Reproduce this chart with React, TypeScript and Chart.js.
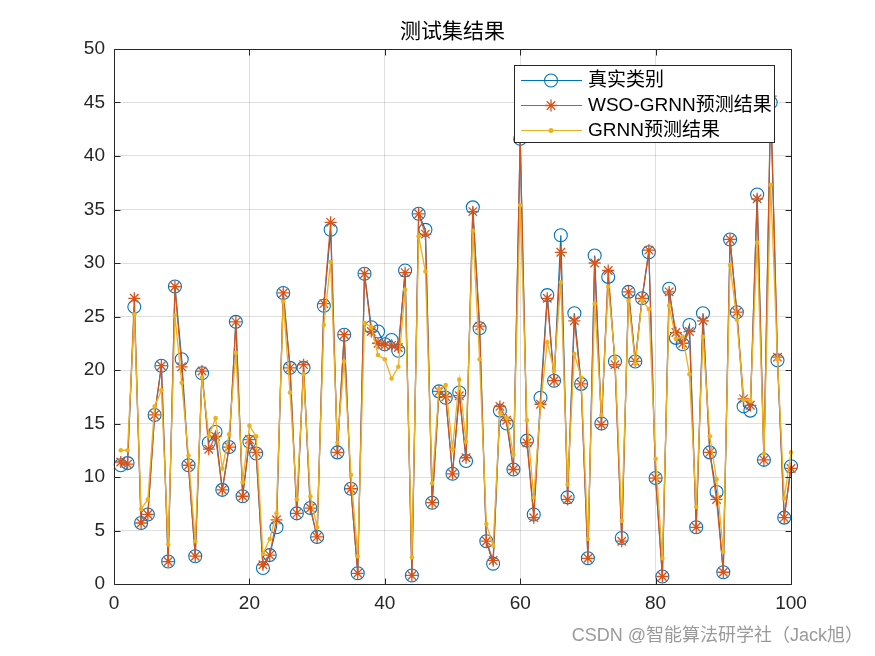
import React, { useEffect, useRef } from "react";
import { Chart, registerables } from "chart.js";

Chart.register(...registerables);

const sampleIndex: number[] = Array.from({ length: 100 }, (_, i) => i + 1);

const trueValues: number[] = [
  11.1, 11.3, 25.9, 5.7, 6.5, 15.8, 20.4, 2.1, 27.8, 21.0,
  11.1, 2.6, 19.7, 13.2, 14.2, 8.8, 12.8, 24.5, 8.2, 13.3,
  12.2, 1.5, 2.7, 5.3, 27.2, 20.2, 6.6, 20.2, 7.1, 4.4,
  26.0, 33.1, 12.3, 23.3, 8.9, 1.0, 29.0, 24.0, 23.6, 22.4,
  22.8, 21.8, 29.3, 0.8, 34.6, 33.1, 7.6, 18.0, 17.4, 10.3,
  17.9, 11.5, 35.2, 23.9, 4.0, 1.9, 16.2, 15.0, 10.7, 41.6,
  13.4, 6.5, 17.4, 27.0, 19.0, 32.6, 8.1, 25.3, 18.7, 2.4,
  30.7, 15.0, 28.7, 20.8, 4.3, 27.3, 20.8, 26.7, 31.0, 9.9,
  0.7, 27.6, 23.0, 22.4, 24.2, 5.3, 25.3, 12.3, 8.6, 1.1,
  32.2, 25.4, 16.6, 16.2, 36.4, 11.6, 45.0, 20.9, 6.2, 11.0,
];

const wsoValues: number[] = [
  11.4, 11.2, 26.7, 5.7, 6.5, 15.8, 20.4, 2.1, 27.8, 20.3,
  11.1, 2.6, 19.9, 12.6, 13.8, 8.8, 12.8, 24.5, 8.2, 13.5,
  12.3, 1.8, 2.7, 6.0, 27.2, 20.2, 6.6, 20.5, 7.1, 4.4,
  26.2, 33.8, 12.3, 23.3, 8.9, 1.0, 29.0, 23.6, 22.5, 22.3,
  22.3, 22.1, 29.1, 0.8, 34.6, 32.7, 7.6, 18.0, 17.5, 10.3,
  17.6, 11.8, 34.8, 24.1, 4.0, 2.2, 16.6, 15.3, 10.7, 41.7,
  13.2, 6.2, 16.8, 26.7, 19.0, 31.0, 7.9, 24.6, 18.7, 2.4,
  30.0, 14.9, 29.3, 20.5, 4.0, 27.3, 20.8, 26.7, 31.2, 9.9,
  0.7, 27.3, 23.5, 22.5, 23.6, 5.3, 24.6, 12.3, 7.9, 1.1,
  32.2, 25.4, 17.3, 16.7, 36.0, 11.6, 45.6, 21.2, 6.2, 10.8,
];

const grnnValues: number[] = [
  12.5, 12.5, 25.2, 7.0, 7.9, 16.6, 18.1, 3.7, 25.1, 18.8,
  12.0, 4.0, 19.3, 13.8, 15.5, 10.8, 14.0, 21.6, 9.5, 14.8,
  13.8, 2.8, 4.2, 6.6, 26.4, 17.9, 7.9, 19.6, 8.2, 5.3,
  24.2, 30.1, 13.2, 20.8, 10.2, 2.6, 24.4, 24.0, 21.4, 21.0,
  19.2, 20.3, 27.5, 2.5, 32.5, 29.2, 9.4, 18.2, 18.6, 12.6,
  19.1, 13.3, 33.0, 21.0, 5.6, 3.6, 16.0, 15.5, 12.1, 35.4,
  15.3, 8.1, 16.7, 22.6, 19.9, 28.2, 9.3, 21.5, 19.3, 4.2,
  26.2, 15.8, 27.8, 21.1, 5.9, 26.5, 20.6, 26.5, 25.7, 11.7,
  2.4, 26.0, 22.9, 23.1, 19.6, 7.2, 23.1, 13.8, 9.8, 3.0,
  29.8, 24.7, 17.2, 17.1, 31.9, 12.2, 37.3, 21.0, 8.0, 12.3,
];

const seriesNames: string[] = ["真实类别", "WSO-GRNN预测结果", "GRNN预测结果"];
const titleText = "测试集结果";
const watermarkText = "CSDN @智能算法研学社（Jack旭）";

const FONT = "'Liberation Sans', Arial, 'Noto Sans CJK SC', sans-serif";
const AXIS_COLOR = "#262626";
const C_TRUE = "#0072BD";
const C_WSO = "#D95319";
const C_GRNN = "#EDB120";

const toPoints = (vals: number[]) => vals.map((v, i) => ({ x: sampleIndex[i], y: v }));

const decorPlugin = {
  id: "decor",
  afterDraw(chart: any) {
    const ctx = chart.ctx as CanvasRenderingContext2D;
    const area = chart.chartArea;
    const xs = chart.scales.x;
    const ys = chart.scales.y;
    ctx.save();
    ctx.strokeStyle = AXIS_COLOR;
    ctx.lineWidth = 1;
    const L = Math.round(area.left) + 0.5;
    const R = Math.round(area.right) + 0.5;
    const T = Math.round(area.top) + 0.5;
    const B = Math.round(area.bottom) + 0.5;
    ctx.beginPath();
    ctx.rect(L, T, R - L, B - T);
    ctx.stroke();
    const tl = 6;
    ctx.beginPath();
    xs.ticks.forEach((t: any) => {
      const px = Math.round(xs.getPixelForValue(t.value)) + 0.5;
      ctx.moveTo(px, B);
      ctx.lineTo(px, B - tl);
      ctx.moveTo(px, T);
      ctx.lineTo(px, T + tl);
    });
    ys.ticks.forEach((t: any) => {
      const py = Math.round(ys.getPixelForValue(t.value)) + 0.5;
      ctx.moveTo(L, py);
      ctx.lineTo(L + tl, py);
      ctx.moveTo(R, py);
      ctx.lineTo(R - tl, py);
    });
    ctx.stroke();

    ctx.fillStyle = "#000";
    ctx.font = `21px ${FONT}`;
    ctx.textAlign = "center";
    ctx.textBaseline = "middle";
    ctx.fillText(titleText, (area.left + area.right) / 2, 32);

    const bx = 514.5, by = 65.5, bw = 260, bh = 77;
    ctx.fillStyle = "#fff";
    ctx.fillRect(bx, by, bw, bh);
    ctx.strokeStyle = AXIS_COLOR;
    ctx.lineWidth = 1;
    ctx.strokeRect(bx, by, bw, bh);
    const rows = [80, 105, 130];
    const metas = chart.data.datasets;
    rows.forEach((ry, i) => {
      const ds = metas[i];
      ctx.strokeStyle = ds.borderColor;
      ctx.lineWidth = 1.2;
      ctx.beginPath();
      ctx.moveTo(521, ry + 0.5);
      ctx.lineTo(582, ry + 0.5);
      ctx.stroke();
      const cx = 551, cy = ry + 0.5;
      if (i === 0) {
        ctx.strokeStyle = C_TRUE;
        ctx.lineWidth = 1.1;
        ctx.beginPath();
        ctx.arc(cx, cy, 6.5, 0, Math.PI * 2);
        ctx.stroke();
      } else if (i === 1) {
        ctx.strokeStyle = C_WSO;
        ctx.lineWidth = 1.3;
        ctx.beginPath();
        const r = 6;
        for (let k = 0; k < 4; k++) {
          const a = (k * Math.PI) / 4;
          ctx.moveTo(cx + r * Math.cos(a), cy + r * Math.sin(a));
          ctx.lineTo(cx - r * Math.cos(a), cy - r * Math.sin(a));
        }
        ctx.stroke();
      } else {
        ctx.fillStyle = C_GRNN;
        ctx.beginPath();
        ctx.arc(cx, cy, 2.5, 0, Math.PI * 2);
        ctx.fill();
      }
      ctx.fillStyle = "#000";
      ctx.font = `19px ${FONT}`;
      ctx.textAlign = "left";
      ctx.textBaseline = "middle";
      ctx.fillText(seriesNames[i], 588, ry + 1);
    });

    ctx.fillStyle = "#9a9a9a";
    ctx.font = `18px ${FONT}`;
    ctx.textAlign = "right";
    ctx.textBaseline = "middle";
    ctx.fillText(watermarkText, 863, 636);
    ctx.restore();
  },
};

export default function App() {
  const ref = useRef<HTMLCanvasElement | null>(null);
  useEffect(() => {
    if (!ref.current) return;
    const chart = new Chart(ref.current, {
      type: "line",
      data: {
        datasets: [
          {
            label: seriesNames[0],
            data: toPoints(trueValues),
            borderColor: C_TRUE,
            backgroundColor: "rgba(0,0,0,0)",
            borderWidth: 1.2,
            pointStyle: "circle",
            pointRadius: 6.5,
            pointBorderWidth: 1.1,
            pointBorderColor: C_TRUE,
            pointBackgroundColor: "rgba(0,0,0,0)",
            order: 3,
            clip: false,
          } as any,
          {
            label: seriesNames[1],
            data: toPoints(wsoValues),
            borderColor: C_WSO,
            backgroundColor: "rgba(0,0,0,0)",
            borderWidth: 1.2,
            pointStyle: "star",
            pointRadius: 6,
            pointBorderWidth: 1.3,
            pointBorderColor: C_WSO,
            pointBackgroundColor: C_WSO,
            order: 2,
            clip: false,
          } as any,
          {
            label: seriesNames[2],
            data: toPoints(grnnValues),
            borderColor: C_GRNN,
            backgroundColor: C_GRNN,
            borderWidth: 1.3,
            pointStyle: "circle",
            pointRadius: 2.3,
            pointBorderWidth: 0,
            pointBackgroundColor: C_GRNN,
            order: 1,
            clip: false,
          } as any,
        ],
      },
      options: {
        responsive: false,
        animation: false,
        devicePixelRatio: 1,
        layout: { padding: { left: 0, top: 49, right: 84, bottom: 0 } },
        plugins: {
          legend: { display: false },
          title: { display: false },
          tooltip: { enabled: false },
        },
        elements: { line: { tension: 0 } },
        scales: {
          x: {
            type: "linear",
            min: 0,
            max: 100,
            ticks: {
              stepSize: 20,
              padding: 8,
              color: AXIS_COLOR,
              font: { family: FONT, size: 19 },
              maxRotation: 0,
            },
            grid: { color: "rgba(38,38,38,0.15)", drawTicks: false, lineWidth: 1 },
            border: { display: false },
            afterFit: (s: any) => {
              s.height = 72;
            },
          },
          y: {
            type: "linear",
            min: 0,
            max: 50,
            ticks: {
              stepSize: 5,
              padding: 9,
              color: AXIS_COLOR,
              font: { family: FONT, size: 19 },
            },
            grid: { color: "rgba(38,38,38,0.15)", drawTicks: false, lineWidth: 1 },
            border: { display: false },
            afterFit: (s: any) => {
              s.width = 114;
            },
          },
        },
      } as any,
      plugins: [decorPlugin],
    });
    return () => chart.destroy();
  }, []);
  return (
    <div style={{ position: "fixed", left: 0, top: 0, width: 875, height: 656, background: "#fff" }}>
      <canvas ref={ref} width={875} height={656} style={{ width: 875, height: 656, display: "block" }} />
    </div>
  );
}
